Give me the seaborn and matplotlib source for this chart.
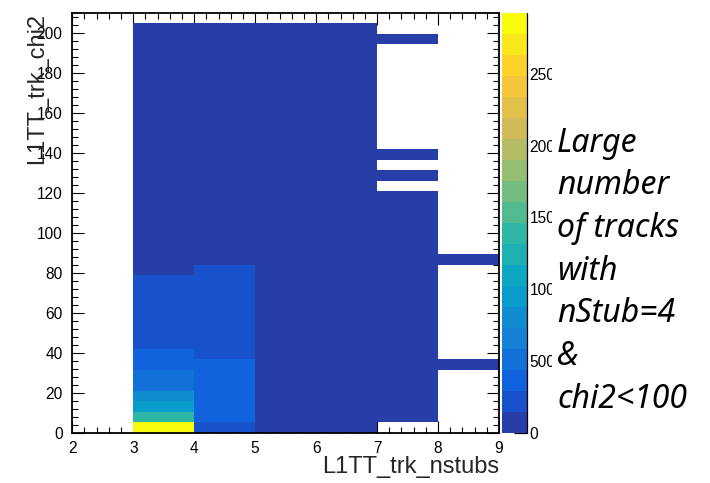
import numpy as np
import pandas as pd
import matplotlib
matplotlib.use("Agg")
import matplotlib.pyplot as plt
from matplotlib.colors import LinearSegmentedColormap, ListedColormap
from matplotlib.patches import Rectangle
from matplotlib.ticker import MultipleLocator
import seaborn as sns

# ---- binning -------------------------------------------------------------
nstub_edges = [2, 3, 4, 5, 6, 7, 8, 9]
chi2_max = 210.0
n_chi2_bins = 40

# ---- bin contents: (chi2 low, chi2 high, entries per bin) per nstubs value
seg_n3 = [(0.0, 5.25, 2925), (5.25, 10.5, 1400), (10.5, 15.75, 950),
          (15.75, 21.0, 800), (21.0, 31.5, 580), (31.5, 42.0, 360),
          (42.0, 78.75, 210), (78.75, 204.75, 60)]
seg_n4 = [(0.0, 5.25, 220), (5.25, 36.75, 370), (36.75, 84.0, 200),
          (84.0, 204.75, 50)]
seg_n5 = [(0.0, 204.75, 40)]
seg_n6 = [(0.0, 204.75, 30)]
seg_n7 = [(5.25, 120.75, 20), (126.0, 131.25, 3), (136.5, 141.75, 2),
          (194.25, 199.5, 1)]
seg_n8 = [(31.5, 36.75, 2), (84.0, 89.25, 2)]

z_max = 2925
z_ticks = [0, 500, 1000, 1500, 2000, 2500]
n_contours = 20

note_lines = ["Large", "number", "of tracks", "with", "nStub=4", "&", "chi2<100"]

# ---- ROOT "bird" palette, sampled into discrete contour colours ----------
bird_stops = [0.0, 0.125, 0.25, 0.375, 0.5, 0.625, 0.75, 0.875, 1.0]
bird_red = [0.2082, 0.0592, 0.0780, 0.0232, 0.1802, 0.5301, 0.8186, 0.9956, 0.9764]
bird_green = [0.1664, 0.3599, 0.5041, 0.6419, 0.7178, 0.7492, 0.7328, 0.7862, 0.9832]
bird_blue = [0.5293, 0.8684, 0.8385, 0.7914, 0.6425, 0.4662, 0.3499, 0.1968, 0.0539]
bird = LinearSegmentedColormap.from_list(
    "bird", list(zip(bird_stops, zip(bird_red, bird_green, bird_blue))), N=255)
band_colors = [bird(int((i + 0.99) * 255 / n_contours) / 254.0) for i in range(n_contours)]
cmap = ListedColormap(band_colors)

# ---- expand the per-column runs into one record per filled cell ----------
chi2_edges = np.linspace(0.0, chi2_max, n_chi2_bins + 1)
chi2_centers = 0.5 * (chi2_edges[:-1] + chi2_edges[1:])
columns = {3: seg_n3, 4: seg_n4, 5: seg_n5, 6: seg_n6, 7: seg_n7, 8: seg_n8}
rows = []
for nstub, segs in columns.items():
    for lo, hi, n in segs:
        for c in chi2_centers[(chi2_centers > lo) & (chi2_centers < hi)]:
            rows.append((nstub + 0.5, c, n))
df = pd.DataFrame(rows, columns=["nstubs", "chi2", "entries"])

# ---- figure ----------------------------------------------------------------
sns.set_style("ticks")
plt.rcParams["font.family"] = ["Liberation Sans", "DejaVu Sans"]

W, H = 710, 483
fig = plt.figure(figsize=(W / 100, H / 100), dpi=100)
ax = fig.add_axes([72.3 / W, 1 - 432.7 / H, (499 - 72.3) / W, (432.7 - 12.7) / H])
cax = fig.add_axes([501.7 / W, 1 - 432.7 / H, 25.0 / W, (432.7 - 13.0) / H])

sns.histplot(data=df, x="nstubs", y="chi2", weights="entries",
             bins=[nstub_edges, chi2_edges], cmap=cmap, vmin=0, vmax=z_max,
             cbar=True, cbar_ax=cax, cbar_kws={"ticks": z_ticks}, ax=ax)

ax.set_xlim(2, 9)
ax.set_ylim(0, chi2_max)
ax.xaxis.set_major_locator(MultipleLocator(1))
ax.xaxis.set_minor_locator(MultipleLocator(0.2))
ax.yaxis.set_major_locator(MultipleLocator(20))
ax.yaxis.set_minor_locator(MultipleLocator(4))
ax.tick_params(which="both", direction="in", top=True, right=True,
               color="black", width=0.8, labelsize=11.2, labelcolor="black")
ax.tick_params(which="major", length=8.6)
ax.tick_params(which="minor", length=4.3)
ax.tick_params(axis="x", which="major", pad=6)
ax.tick_params(axis="y", which="major", pad=7)
for sp in ax.spines.values():
    sp.set_visible(True)
    sp.set_color("black")
    sp.set_linewidth(1.3)

ax.set_xlabel("L1TT_trk_nstubs", fontsize=17, loc="right")
ax.set_ylabel("L1TT_trk_chi2", fontsize=17, loc="top")
ax.xaxis.set_label_coords(1.0, -0.055)
ax.yaxis.set_label_coords(-0.057, 1.0)

# colour scale
cbar = ax.collections[0].colorbar
cbar.outline.set_visible(False)
cax.plot([1, 1], [0, 1], transform=cax.transAxes, color="black", lw=0.9,
         clip_on=False)
cax.tick_params(which="major", direction="in", length=9.5, width=0.9,
                color="black", labelsize=11.2, labelcolor="black", pad=2)
cax.minorticks_off()

# annotation panel on the right
fig.patches.append(Rectangle((552 / W, 0), 1, 1, transform=fig.transFigure,
                             facecolor="white", edgecolor="none", zorder=3))
for i, line in enumerate(note_lines):
    fig.text(557 / W, 1 - (151.7 + 42.7 * i) / H, line, fontsize=23,
             family=["Noto Sans", "DejaVu Sans"], style="italic",
             color="black", ha="left", va="baseline", zorder=4)

fig.savefig("out.png", dpi=100)
